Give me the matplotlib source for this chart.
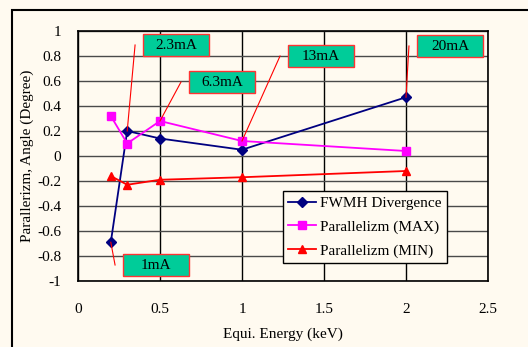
import matplotlib
matplotlib.use("Agg")
import matplotlib.pyplot as plt
from matplotlib.patches import Rectangle

# data
energy = [0.2, 0.3, 0.5, 1.0, 2.0]
fwmh = [-0.69, 0.20, 0.14, 0.05, 0.47]
par_max = [0.32, 0.10, 0.28, 0.12, 0.04]
par_min = [-0.16, -0.23, -0.19, -0.17, -0.12]

currents = ["1mA", "2.3mA", "6.3mA", "13mA", "20mA"]
# which point of which series each callout points at
callout_targets = [(0.2, -0.69), (0.3, 0.20), (0.5, 0.28), (1.0, 0.12), (2.0, 0.47)]
# box centres in data units
callout_boxes = [(0.476, -0.872), (0.598, 0.888), (0.878, 0.592), (1.482, 0.80), (2.268, 0.88)]

bg = "#fffaf0"
plt.rcParams["font.family"] = ["Liberation Serif", "DejaVu Serif"]

fig = plt.figure(figsize=(5.28, 3.47), dpi=100, facecolor=bg)
ax = fig.add_axes([78 / 528, 1 - 281 / 347, 410 / 528, 250 / 347])
ax.set_facecolor(bg)

# outer frame (runs off the right and bottom like the original)
fig.patches.append(Rectangle((12 / 528, -0.1), 1.2, 1 - 10 / 347 + 0.1,
                             transform=fig.transFigure, fill=False,
                             edgecolor="black", linewidth=1.5))

ax.set_xlim(0, 2.5)
ax.set_ylim(-1, 1)
ax.set_xticks([0, 0.5, 1, 1.5, 2, 2.5])
ax.set_xticklabels(["0", "0.5", "1", "1.5", "2", "2.5"])
ax.set_yticks([i / 10 for i in range(-10, 11, 2)])
ax.set_yticklabels(["-1", "-0.8", "-0.6", "-0.4", "-0.2", "0",
                    "0.2", "0.4", "0.6", "0.8", "1"])
ax.tick_params(axis="x", length=0, pad=16, labelsize=11)
ax.tick_params(axis="y", length=0, pad=12, labelsize=11)
for s in ax.spines.values():
    s.set_linewidth(1.2)

ax.grid(axis="y", color="#4a4a4a", linewidth=1)
ax.grid(axis="x", color="black", linewidth=1)
ax.set_axisbelow(True)

ax.plot(energy, fwmh, color="#000080", marker="D", markersize=5.5,
        linewidth=1.3, label="FWMH Divergence", zorder=3)
ax.plot(energy, par_max, color="#ff00ff", marker="s", markersize=6,
        linewidth=1.3, label="Parallelizm (MAX)", zorder=3)
ax.plot(energy, par_min, color="#ff0000", marker="^", markersize=6,
        linewidth=1.3, label="Parallelizm (MIN)", zorder=3)

bw, bh = 66 / 410 * 2.5, 22 / 250 * 2
for label, (tx, ty), (cx, cy) in zip(currents, callout_targets, callout_boxes):
    lx = cx - bw / 2 - 8 / 410 * 2.5
    ax.plot([lx, tx], [cy, ty], color="red", linewidth=0.8,
            clip_on=False, zorder=4)
    ax.add_patch(Rectangle((cx - bw / 2, cy - bh / 2), bw, bh,
                           facecolor="#00cc99", edgecolor="#ff3333",
                           linewidth=1, clip_on=False, zorder=5))
    ax.text(cx, cy - 0.005, label, ha="center", va="center",
            fontsize=11, zorder=6)

leg = ax.legend(loc="lower right", bbox_to_anchor=(0.9, 0.072),
                borderaxespad=0, fontsize=11, frameon=True, fancybox=False,
                facecolor=bg, edgecolor="black", framealpha=1,
                handlelength=1.8, handletextpad=0.3, borderpad=0.35,
                labelspacing=0.65)
leg.get_frame().set_linewidth(1)

ax.set_xlabel("Equi. Energy (keV)", fontsize=11, labelpad=8)
ax.set_ylabel("Parallerizm, Angle (Degree)", fontsize=11, labelpad=2)

fig.savefig("out.png", dpi=100, facecolor=bg)
